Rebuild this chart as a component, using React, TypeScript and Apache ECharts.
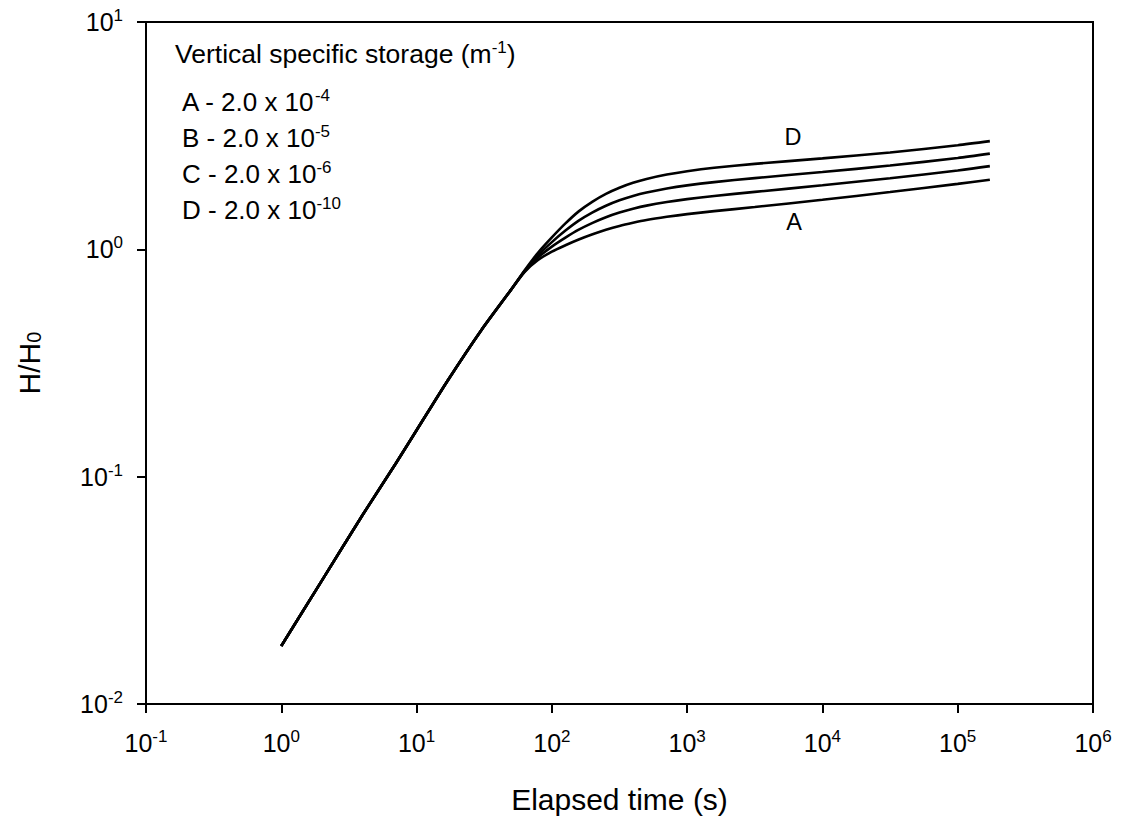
import React, { useEffect, useRef } from "react";
import * as echarts from "echarts";

const FONT = '"Liberation Sans", Arial, sans-serif';

// Elapsed time (s)
const timeS = [
  1, 2, 4, 7, 10, 17, 30, 50, 63, 79, 100, 126, 158, 200, 251, 316, 398, 501, 708, 1000, 1585, 3162, 10000, 31623,
  100000, 172800,
];
// H/H0 for each vertical specific storage
const curveA = [
  0.018, 0.035, 0.068, 0.114, 0.16, 0.265, 0.44, 0.665, 0.796, 0.897, 0.977, 1.042, 1.104, 1.164, 1.219, 1.268, 1.309,
  1.346, 1.39, 1.429, 1.472, 1.535, 1.652, 1.786, 1.941, 2.023,
];
const curveB = [
  0.018, 0.035, 0.068, 0.114, 0.16, 0.265, 0.44, 0.665, 0.8, 0.921, 1.028, 1.126, 1.22, 1.307, 1.384, 1.451, 1.508,
  1.557, 1.615, 1.663, 1.717, 1.789, 1.913, 2.055, 2.222, 2.323,
];
const curveC = [
  0.018, 0.035, 0.068, 0.114, 0.16, 0.265, 0.44, 0.665, 0.805, 0.943, 1.076, 1.209, 1.337, 1.454, 1.555, 1.643, 1.717,
  1.778, 1.852, 1.911, 1.975, 2.057, 2.188, 2.337, 2.523, 2.636,
];
const curveD = [
  0.018, 0.035, 0.068, 0.114, 0.16, 0.265, 0.44, 0.665, 0.809, 0.966, 1.128, 1.3, 1.469, 1.622, 1.754, 1.866, 1.961,
  2.04, 2.133, 2.206, 2.284, 2.377, 2.512, 2.667, 2.871, 2.992,
];

const seriesNames = ["A", "B", "C", "D"];
const seriesValues = [curveA, curveB, curveC, curveD];

const legendTitle = "Vertical specific storage (m{s|-1})";
const legendLines = [
  "A - 2.0 x 10{s|-4}",
  "B - 2.0 x 10{s|-5}",
  "C - 2.0 x 10{s|-6}",
  "D - 2.0 x 10{s|-10}",
];

const xMin = 0.1;
const xMax = 1e6;
const yMin = 0.01;
const yMax = 10;

function powLabel(v: number) {
  const e = Math.round(Math.log10(v));
  return `{b|10}{s|${e}}`;
}

const tickRich = {
  b: { fontSize: 25, lineHeight: 30, fontFamily: FONT, color: "#000" },
  s: { fontSize: 17, lineHeight: 19, verticalAlign: "top", fontFamily: FONT, color: "#000" },
};

export default function App() {
  const ref = useRef<HTMLDivElement>(null);
  useEffect(() => {
    if (!ref.current) return;
    const chart = echarts.init(ref.current, undefined, { renderer: "svg" });
    const supRich = {
      s: { fontSize: 17, lineHeight: 19, verticalAlign: "top", fontFamily: FONT, fill: "#000", color: "#000" },
    };
    const graphics: any[] = [
      {
        type: "text",
        left: 175,
        top: 39,
        style: {
          text: legendTitle,
          fontSize: 26.5,
          lineHeight: 30,
          fontFamily: FONT,
          fill: "#000",
          rich: supRich,
        },
      },
      ...legendLines.map((t, i) => ({
        type: "text",
        left: 182,
        top: 86.5 + i * 36.2,
        style: {
          text: t,
          fontSize: 26,
          lineHeight: 30,
          fontFamily: FONT,
          fill: "#000",
          rich: supRich,
        },
      })),
      {
        type: "text",
        x: 793,
        y: 137,
        style: { text: "D", fontSize: 23.5, fontFamily: FONT, fill: "#000", align: "center", verticalAlign: "middle" },
      },
      {
        type: "text",
        x: 794,
        y: 222,
        style: { text: "A", fontSize: 23.5, fontFamily: FONT, fill: "#000", align: "center", verticalAlign: "middle" },
      },
    ];

    chart.setOption({
      animation: false,
      backgroundColor: "#fff",
      grid: {
        left: 146,
        right: 32,
        top: 22,
        bottom: 117,
        show: true,
        borderColor: "#000",
        borderWidth: 2,
        backgroundColor: "transparent",
      },
      xAxis: {
        type: "log",
        logBase: 10,
        min: xMin,
        max: xMax,
        splitNumber: 7,
        name: "Elapsed time (s)",
        nameLocation: "middle",
        nameGap: 80,
        nameTextStyle: { fontSize: 30, fontFamily: FONT, color: "#000" },
        axisLine: { show: true, lineStyle: { color: "#000", width: 2 } },
        axisTick: { show: true, inside: false, length: 9, lineStyle: { color: "#000", width: 2 } },
        minorTick: { show: false },
        splitLine: { show: false },
        axisLabel: {
          margin: 24,
          formatter: powLabel,
          rich: tickRich,
          color: "#000",
        },
      },
      yAxis: {
        type: "log",
        logBase: 10,
        min: yMin,
        max: yMax,
        splitNumber: 3,
        name: "H/H{sub|0}",
        nameLocation: "middle",
        nameRotate: 90,
        nameGap: 102,
        nameTextStyle: {
          fontSize: 30,
          fontFamily: FONT,
          color: "#000",
          rich: {
            sub: { fontSize: 20, lineHeight: 20, verticalAlign: "bottom", fontFamily: FONT, color: "#000" },
          },
        },
        axisLine: { show: true, lineStyle: { color: "#000", width: 2 } },
        axisTick: { show: true, inside: false, length: 9, lineStyle: { color: "#000", width: 2 } },
        minorTick: { show: false },
        splitLine: { show: false },
        axisLabel: {
          margin: 23,
          formatter: powLabel,
          rich: tickRich,
          color: "#000",
        },
      },
      series: seriesNames.map((n, i) => ({
        name: n,
        type: "line",
        data: timeS.map((t, j) => [t, seriesValues[i][j]]),
        showSymbol: false,
        smooth: 0.25,
        lineStyle: { color: "#000", width: 2.6 },
        emphasis: { disabled: true },
      })),
      graphic: graphics,
    });
    return () => chart.dispose();
  }, []);
  return (
    <div
      ref={ref}
      style={{ position: "fixed", left: 0, top: 0, width: 1125, height: 821, background: "#fff" }}
    />
  );
}
